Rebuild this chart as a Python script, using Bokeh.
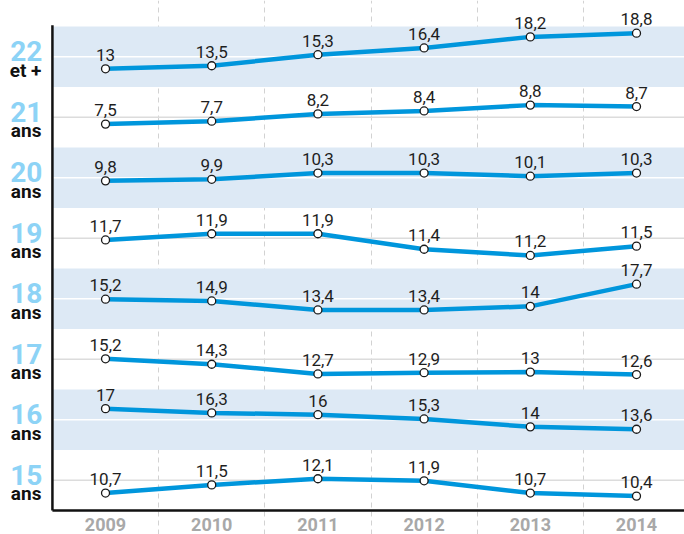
from bokeh.plotting import figure
from bokeh.models import Range1d, FixedTicker, ColumnDataSource
from bokeh.embed import file_html
from bokeh.resources import INLINE
from bokeh.core.properties import value

# ---- data ----
years = [2009, 2010, 2011, 2012, 2013, 2014]
year_labels = ["2009", "2010", "2011", "2012", "2013", "2014"]
age_labels = ["15", "16", "17", "18", "19", "20", "21", "22"]
age_sub = ["ans", "ans", "ans", "ans", "ans", "ans", "ans", "et +"]

v15 = [10.7, 11.5, 12.1, 11.9, 10.7, 10.4]
v16 = [17, 16.3, 16, 15.3, 14, 13.6]
v17 = [15.2, 14.3, 12.7, 12.9, 13, 12.6]
v18 = [15.2, 14.9, 13.4, 13.4, 14, 17.7]
v19 = [11.7, 11.9, 11.9, 11.4, 11.2, 11.5]
v20 = [9.8, 9.9, 10.3, 10.3, 10.1, 10.3]
v21 = [7.5, 7.7, 8.2, 8.4, 8.8, 8.7]
v22 = [13, 13.5, 15.3, 16.4, 18.2, 18.8]
series = [v15, v16, v17, v18, v19, v20, v21, v22]

# per-row value window (bottom, top of each band) - layout
row_lo = [8.99, 10.18, 10.12, 10.23, 10.78, 8.06, 5.90, 10.04]
row_hi = [14.92, 20.16, 20.14, 20.31, 12.73, 11.94, 10.04, 19.89]

NROWS = len(series)
LINE_COLOR = "#0096dc"
BAND_COLOR = "#dde9f5"
NUM_COLOR = "#8dd3f6"
FONT = "Roboto"

# ranges: whole canvas is the frame
X0, X1 = 2008.011, 2014.452
Y0, Y1 = -0.3967, NROWS + 0.4298
x_left = years[0] - 0.5

p = figure(width=684, height=534, output_backend="svg", toolbar_location=None, tools="",
           x_range=Range1d(X0, X1), y_range=Range1d(Y0, Y1),
           x_axis_location=None, y_axis_location=None, min_border=0)
p.outline_line_color = None
p.background_fill_color = "white"
p.border_fill_color = "white"

# vertical dashed grid between years (underlay, hidden by blue bands)
p.ygrid.visible = False
p.xgrid.ticker = FixedTicker(ticks=[y + 0.5 for y in years[:-1]])
p.xgrid.grid_line_color = "#d2d2d2"
p.xgrid.grid_line_dash = "5 4"
p.xgrid.grid_line_width = 1
p.xgrid.level = "underlay"

# bands
blue_rows = [i for i in range(NROWS) if i % 2 == 1]
p.quad(left=x_left, right=X1, bottom=[i for i in blue_rows], top=[i + 1 for i in blue_rows],
       fill_color=BAND_COLOR, line_color=None)
# mid lines
mids = [i + 0.5 for i in range(NROWS)]
p.segment(x0=x_left, x1=X1, y0=mids, y1=mids,
          line_color=["white" if i % 2 == 1 else "#dcdcdc" for i in range(NROWS)],
          line_width=1.5)

# axis lines
p.segment(x0=[x_left, x_left], y0=[0, 0], x1=[x_left, X1], y1=[NROWS + 0.02, 0],
          line_color="#111111", line_width=2.5)

# x tick labels
p.text(x=years, y=[0] * len(years), text=year_labels, y_offset=14.5,
       text_align="center", text_baseline="middle",
       text_font=value(FONT), text_font_style="bold", text_font_size="18px",
       text_color="#a8a8a8")

for i, vals in enumerate(series):
    lo, hi = row_lo[i], row_hi[i]
    h = hi - lo
    name = f"r{i}"
    p.extra_y_ranges[name] = Range1d(lo + (Y0 - i) * h, lo + (Y1 - i) * h)
    src = ColumnDataSource(dict(x=years, y=vals,
                                t=[f"{v:g}".replace(".", ",") for v in vals]))
    p.line("x", "y", source=src, y_range_name=name, line_color=LINE_COLOR,
           line_width=4.5, line_join="round", line_cap="round")
    p.scatter("x", "y", source=src, y_range_name=name, size=8,
              fill_color="white", line_color="#1a1a1a", line_width=1.3)
    p.text("x", "y", text="t", source=src, y_range_name=name,
           y_offset=-14, text_align="center", text_baseline="middle",
           text_font=value(FONT), text_font_size="17px", text_color="#1e1e1e")

# left row labels
p.text(x=[x_left] * NROWS, y=mids, text=age_labels, x_offset=-10, y_offset=-5.5,
       text_align="right", text_baseline="middle",
       text_font=value(FONT), text_font_style="bold", text_font_size="28px",
       text_color=NUM_COLOR)
p.text(x=[x_left] * NROWS, y=mids, text=age_sub, x_offset=-11, y_offset=13.5,
       text_align="right", text_baseline="middle",
       text_font=value(FONT), text_font_style="bold", text_font_size="19px",
       text_color="#111111")

open("out.html", "w").write(file_html(p, INLINE))
